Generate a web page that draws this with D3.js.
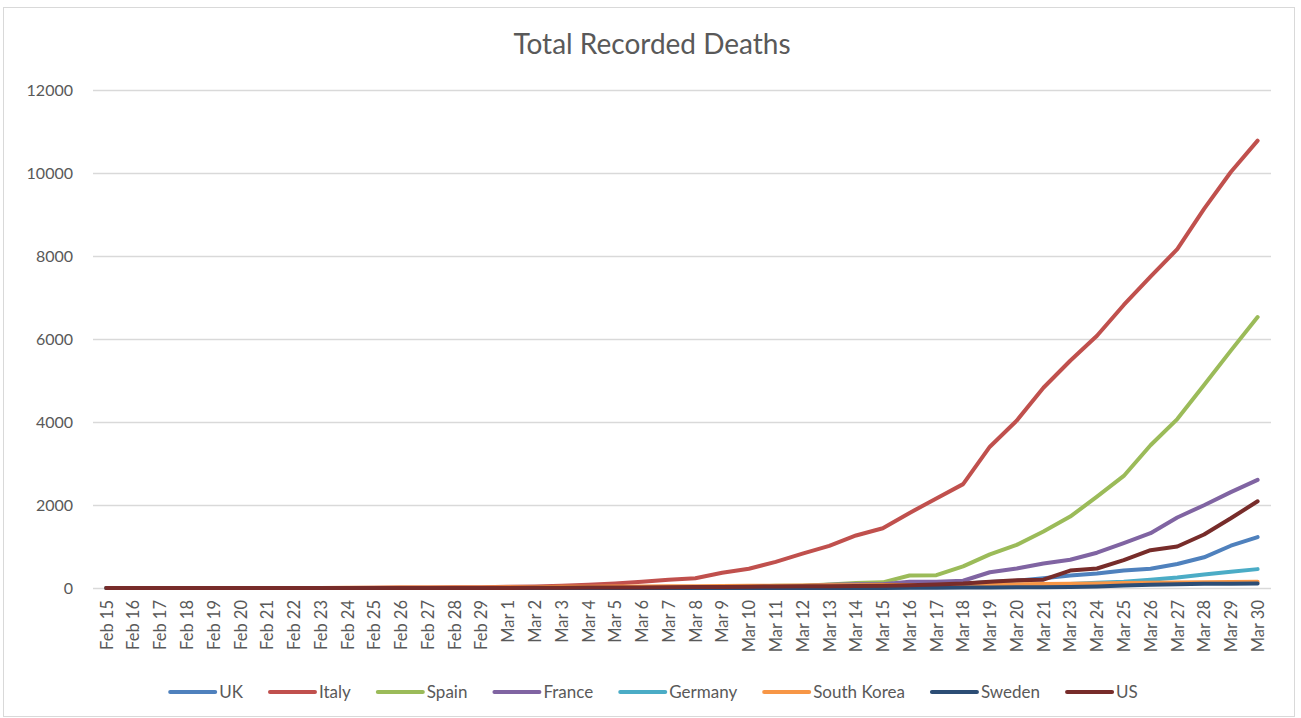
<!DOCTYPE html>
<html><head><meta charset="utf-8">
<script src="https://cdn.jsdelivr.net/npm/d3@7"></script>
<style>
html,body{margin:0;padding:0;background:#fff;}
svg{display:block;font-family:Lato,"Open Sans",sans-serif;}
</style></head>
<body>
<svg id="chart" width="1301" height="718"></svg>
<script>
const dates = ["Feb 15","Feb 16","Feb 17","Feb 18","Feb 19","Feb 20","Feb 21","Feb 22","Feb 23","Feb 24","Feb 25","Feb 26","Feb 27","Feb 28","Feb 29",
"Mar 1","Mar 2","Mar 3","Mar 4","Mar 5","Mar 6","Mar 7","Mar 8","Mar 9","Mar 10","Mar 11","Mar 12","Mar 13","Mar 14","Mar 15","Mar 16","Mar 17","Mar 18","Mar 19","Mar 20","Mar 21",
"Mar 23","Mar 24","Mar 25","Mar 26","Mar 27","Mar 28","Mar 29","Mar 30"];

const uk      = [0,0,0,0,0,0,0,0,0,0,0,0,0,0,0,0,0,0,0,0,1,2,2,3,6,8,8,10,21,35,55,71,104,144,177,233,300,350,422,465,578,740,1019,1228];
const italy   = [0,0,0,0,0,0,0,1,2,3,7,10,12,17,21,29,34,52,79,107,148,197,233,366,463,631,827,1016,1266,1441,1809,2158,2503,3405,4032,4825,5476,6077,6820,7503,8165,9134,10023,10779];
const spain   = [0,0,0,0,0,0,0,0,0,0,0,0,0,0,0,0,0,1,2,3,5,10,17,28,35,54,55,84,120,136,300,309,520,810,1040,1360,1720,2200,2700,3440,4070,4890,5720,6530];
const france  = [1,1,1,1,1,1,1,1,1,1,1,2,2,2,2,2,3,4,4,6,9,11,19,19,33,48,48,79,91,91,148,148,175,380,470,590,680,850,1080,1320,1700,1995,2310,2606];
const germany = [0,0,0,0,0,0,0,0,0,0,0,0,0,0,0,0,0,0,0,0,0,0,0,2,2,3,3,7,9,11,17,24,28,44,67,84,94,126,149,198,253,325,389,455];
const skorea  = [0,0,0,0,0,1,1,2,2,6,8,10,12,13,13,16,17,28,28,35,35,42,44,50,53,54,60,66,66,72,75,75,81,84,91,94,104,111,120,126,131,139,144,152];
const sweden  = [0,0,0,0,0,0,0,0,0,0,0,0,0,0,0,0,0,0,0,0,0,0,0,0,0,1,1,1,2,3,6,7,10,11,16,20,23,36,62,77,92,102,105,110];
const us      = [0,0,0,0,0,0,0,0,0,0,0,0,0,0,1,1,6,9,11,12,15,19,22,26,30,38,41,41,48,57,69,86,108,150,185,200,420,470,670,910,1000,1290,1680,2090];

const seriesNames  = ["UK","Italy","Spain","France","Germany","South Korea","Sweden","US"];
const seriesValues = [uk, italy, spain, france, germany, skorea, sweden, us];
const seriesColors = ["#4F81BD","#C0504D","#9BBB59","#8064A2","#4BACC6","#F79646","#2C4D75","#772C2A"];
const yTicks = [0,2000,4000,6000,8000,10000,12000];
const titleText = "Total Recorded Deaths";

const svg = d3.select("#chart");
const plot = {left: 93, right: 1271, top: 90, bottom: 588};
const textColor = "#595959";

// chart area border
svg.append("rect").attr("x",3.5).attr("y",7.5).attr("width",1291).attr("height",709)
  .attr("fill","#fff").attr("stroke","#D9D9D9").attr("stroke-width",1);

// title
svg.append("text").attr("x",652).attr("y",54).attr("text-anchor","middle")
  .attr("font-size",28).attr("fill",textColor).text(titleText);

const x = d3.scalePoint().domain(dates).range([plot.left, plot.right]).padding(0.5);
const y = d3.scaleLinear().domain([0,12000]).range([plot.bottom, plot.top]);

// gridlines + y labels
const yAxis = d3.axisLeft(y).tickValues(yTicks).tickSize(-(plot.right-plot.left)).tickPadding(20).tickFormat(d3.format("d"));
const gy = svg.append("g").attr("transform",`translate(${plot.left},0)`).call(yAxis);
gy.select(".domain").remove();
gy.selectAll(".tick line").attr("stroke","#D9D9D9").attr("stroke-width",1.3);
gy.selectAll(".tick text").attr("fill",textColor).attr("font-size",16).attr("font-family","Lato").attr("x",-20);

// x axis
const xAxis = d3.axisBottom(x).tickSize(0).tickPadding(0);
const gx = svg.append("g").attr("transform",`translate(0,${plot.bottom})`).call(xAxis);
gx.select(".domain").remove();
gx.selectAll(".tick text")
  .attr("fill",textColor).attr("font-size",16.5).attr("font-family","Lato")
  .attr("transform","rotate(-90)")
  .attr("text-anchor","end")
  .attr("x",-12).attr("y",0).attr("dy","0.35em");

// lines
const line = d3.line().x((d,i)=>x(dates[i])).y(d=>y(d));
seriesValues.forEach((vals,k)=>{
  svg.append("path").datum(vals).attr("d",line)
    .attr("fill","none").attr("stroke",seriesColors[k]).attr("stroke-width",4)
    .attr("stroke-linejoin","round").attr("stroke-linecap","round");
});

// legend
const leg = svg.append("g");
const lineLen = 45, gapText = 4, gapItem = 27, legY = 692;
let cx = 0;
seriesNames.forEach((n,k)=>{
  const g = leg.append("g");
  g.append("line").attr("x1",0).attr("x2",lineLen).attr("y1",0).attr("y2",0)
    .attr("stroke",seriesColors[k]).attr("stroke-width",4).attr("stroke-linecap","round");
  const t = g.append("text").attr("x",lineLen+gapText).attr("y",0).attr("dy","0.35em")
    .attr("font-size",17).attr("fill",textColor).text(n);
  const w = lineLen + gapText + t.node().getComputedTextLength();
  g.attr("transform",`translate(${cx},${legY})`);
  cx += w + gapItem;
});
const total = cx - gapItem;
leg.attr("transform",`translate(${654 - total/2},0)`);
</script>
</body></html>
